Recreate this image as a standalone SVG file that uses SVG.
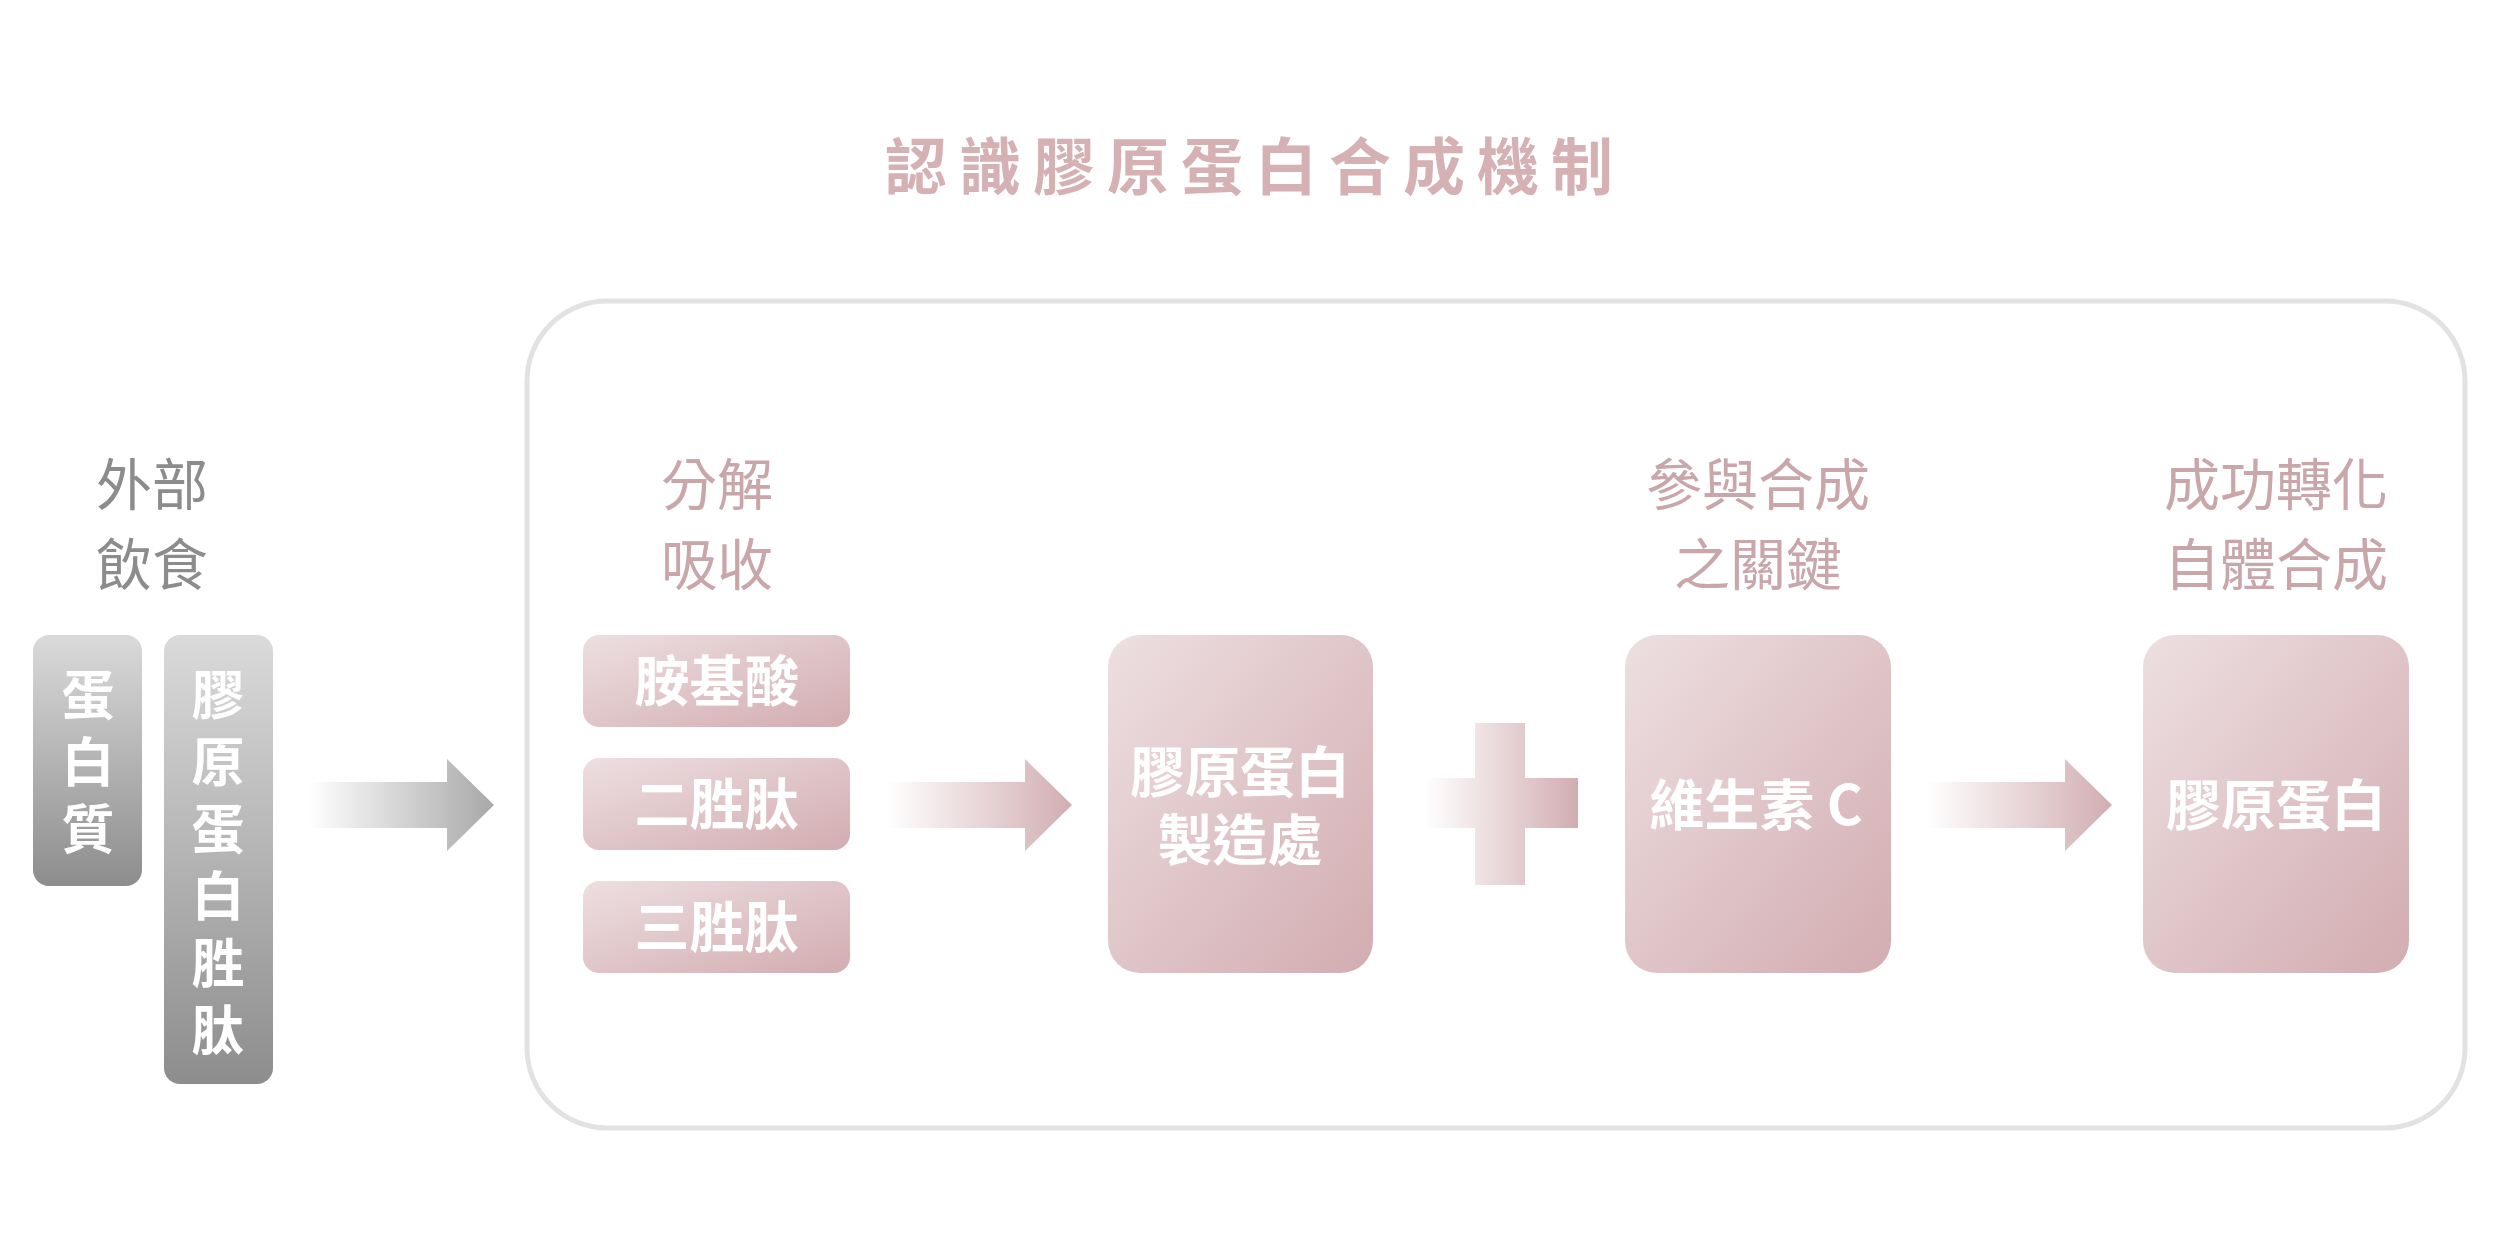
<svg xmlns="http://www.w3.org/2000/svg" width="2500" height="1250" viewBox="0 0 2500 1250">
<defs>
<linearGradient id="gGrayBox" x1="0" y1="0" x2="0" y2="1">
<stop offset="0" stop-color="#dadada"/>
<stop offset="1" stop-color="#8d8d8d"/>
</linearGradient>
<linearGradient id="gPinkBox" x1="0" y1="0" x2="1" y2="1">
<stop offset="0" stop-color="#eddfe1"/>
<stop offset="1" stop-color="#d2acb0"/>
</linearGradient>
<linearGradient id="gGrayArrow" x1="0" y1="0" x2="1" y2="0">
<stop offset="0" stop-color="#ffffff"/>
<stop offset="1" stop-color="#a8a8a8"/>
</linearGradient>
<linearGradient id="gPinkArrow" x1="0" y1="0" x2="1" y2="0">
<stop offset="0" stop-color="#ffffff"/>
<stop offset="1" stop-color="#d1adb1"/>
</linearGradient>
<style>
.title{font-family:"Noto Sans CJK TC","Noto Sans CJK SC",sans-serif;font-weight:700;font-size:62px;fill:#d5b1b4;letter-spacing:12px}
.lblGray{font-family:"Noto Sans CJK TC","Noto Sans CJK SC",sans-serif;font-weight:400;font-size:56px;fill:#8c8c8c;text-anchor:middle}
.lblPink{font-family:"Noto Sans CJK TC","Noto Sans CJK SC",sans-serif;font-weight:400;font-size:56px;fill:#c9a6aa;text-anchor:middle}
.boxTxt{font-family:"Noto Sans CJK TC","Noto Sans CJK SC",sans-serif;font-weight:700;font-size:55px;fill:#ffffff;text-anchor:middle}
.vTxt{font-family:"Noto Sans CJK TC","Noto Sans CJK SC",sans-serif;font-weight:700;font-size:53px;fill:#ffffff;text-anchor:middle}
.frame{fill:none;stroke:#e2e2e2;stroke-width:5}
</style>
</defs>
<rect width="2500" height="1250" fill="#ffffff"/>

<text class="title" x="885" y="190">認識膠原蛋白合成機制</text>

<rect class="frame" x="527" y="301" width="1938" height="827" rx="80" ry="80"/>

<g id="diet-label">
<text class="lblGray" x="152" y="505">外部</text>
<text class="lblGray" x="152" y="585">飲食</text>
</g>

<g id="node-protein">
<rect x="33" y="635" width="109" height="251" rx="16" fill="url(#gGrayBox)"/>
<text class="vTxt" x="88" y="715">蛋</text>
<text class="vTxt" x="88" y="782">白</text>
<text class="vTxt" x="88" y="849">質</text>
</g>

<g id="node-peptide">
<rect x="164" y="635" width="109" height="449" rx="16" fill="url(#gGrayBox)"/>
<text class="vTxt" x="218" y="715">膠</text>
<text class="vTxt" x="218" y="782">原</text>
<text class="vTxt" x="218" y="849">蛋</text>
<text class="vTxt" x="218" y="916">白</text>
<text class="vTxt" x="218" y="983">胜</text>
<text class="vTxt" x="218" y="1050">肽</text>
</g>

<g id="absorb-label">
<text class="lblPink" x="717" y="505">分解</text>
<text class="lblPink" x="717" y="585">吸收</text>
</g>

<g id="node-amino">
<rect x="583" y="635" width="267" height="92" rx="16" fill="url(#gPinkBox)"/>
<text class="boxTxt" x="717" y="701">胺基酸</text>
</g>
<g id="node-dipeptide">
<rect x="583" y="758" width="267" height="92" rx="16" fill="url(#gPinkBox)"/>
<text class="boxTxt" x="717" y="824">二胜肽</text>
</g>
<g id="node-tripeptide">
<rect x="583" y="881" width="267" height="92" rx="16" fill="url(#gPinkBox)"/>
<text class="boxTxt" x="717" y="947">三胜肽</text>
</g>

<g id="node-factory">
<rect x="1108" y="635" width="265" height="338" rx="32" fill="url(#gPinkBox)"/>
<text class="boxTxt" x="1240" y="792">膠原蛋白</text>
<text class="boxTxt" x="1240" y="860">製造處</text>
</g>

<g id="synth-label">
<text class="lblPink" x="1758" y="505">參與合成</text>
<text class="lblPink" x="1758" y="585">之關鍵</text>
</g>

<g id="node-vitc">
<rect x="1625" y="635" width="266" height="338" rx="32" fill="url(#gPinkBox)"/>
<text class="boxTxt" x="1756" y="825">維生素 C</text>
</g>

<g id="result-label">
<text class="lblPink" x="2276" y="505">成功轉化</text>
<text class="lblPink" x="2276" y="585">自體合成</text>
</g>

<g id="node-collagen">
<rect x="2143" y="635" width="266" height="338" rx="32" fill="url(#gPinkBox)"/>
<text class="boxTxt" x="2276" y="825">膠原蛋白</text>
</g>

<g id="connectors">
<polygon points="308,782 447,782 447,759 494,805 447,851 447,828 308,828" fill="url(#gGrayArrow)"/>
<polygon points="886,782 1025,782 1025,759 1072,805 1025,851 1025,828 886,828" fill="url(#gPinkArrow)"/>
<polygon points="1425,778 1475,778 1475,723 1525,723 1525,778 1578,778 1578,828 1525,828 1525,885 1475,885 1475,828 1425,828" fill="url(#gPinkArrow)"/>
<polygon points="1926,782 2065,782 2065,759 2112,805 2065,851 2065,828 1926,828" fill="url(#gPinkArrow)"/>
</g>
</svg>
